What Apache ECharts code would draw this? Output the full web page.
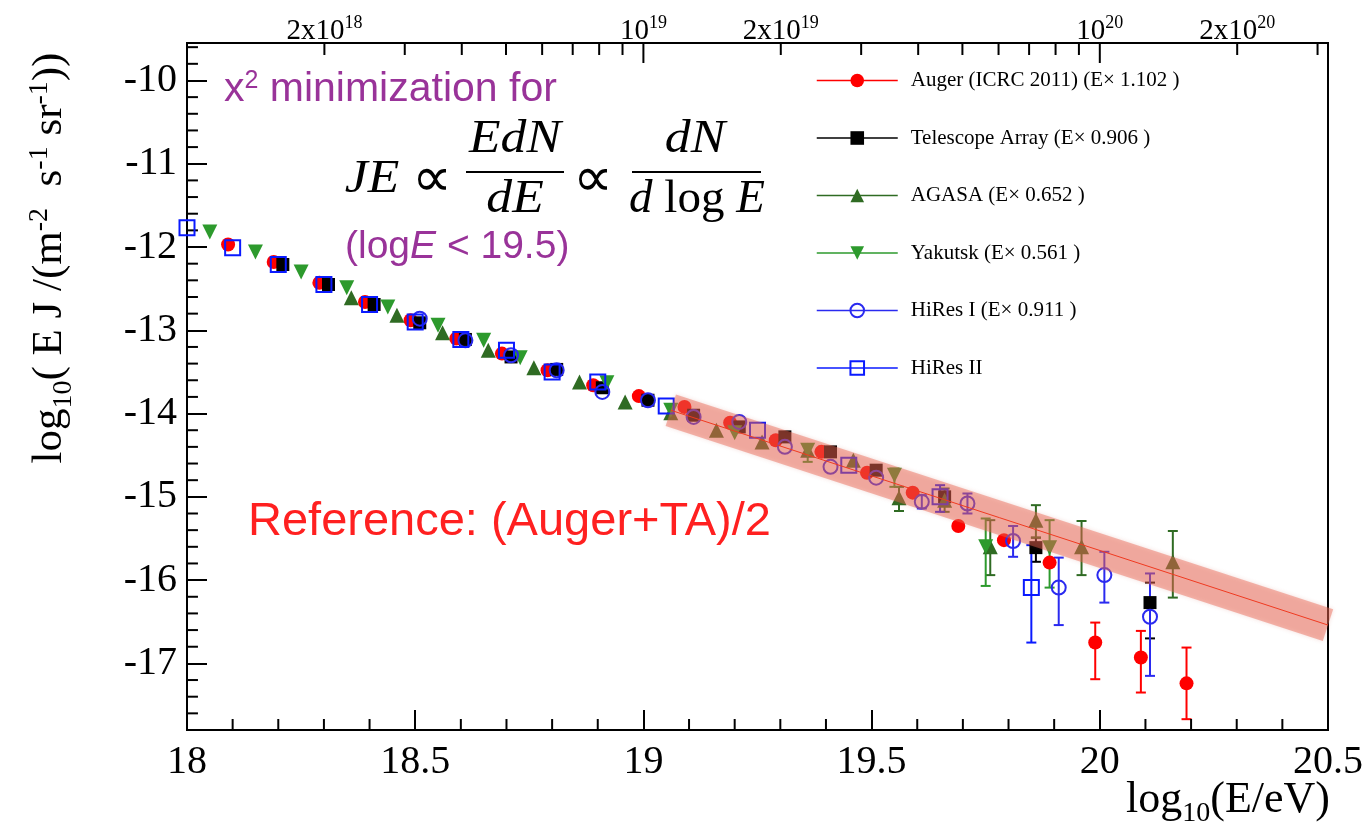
<!DOCTYPE html>
<html><head><meta charset="utf-8">
<script src="https://cdn.jsdelivr.net/npm/echarts@6/dist/echarts.min.js"></script>
<style>html,body{margin:0;padding:0;background:#fff}#c{width:1366px;height:835px}</style>
</head><body><div id="c"></div>
<script>
// ---------------- data ----------------
const augerPts = [[18.09,-11.97],[18.19,-12.18],[18.29,-12.43],[18.39,-12.66],[18.49,-12.88],[18.59,-13.10],[18.69,-13.28],[18.79,-13.48],[18.89,-13.66],[18.99,-13.79],[19.09,-13.92],[19.19,-14.11],[19.29,-14.32],[19.39,-14.46],[19.49,-14.71],[19.59,-14.95],[19.69,-15.35],[19.79,-15.52],[19.89,-15.79],[19.99,-16.75],[20.09,-16.93],[20.19,-17.24]];
const augerErr = [[19.99,-16.51,-17.19],[20.09,-16.61,-17.35],[20.19,-16.81,-17.67]];
const taPts = [[18.21,-12.21],[18.31,-12.45],[18.41,-12.69],[18.51,-12.91],[18.61,-13.11],[18.71,-13.32],[18.81,-13.47],[18.91,-13.69],[19.01,-13.84],[19.11,-14.02],[19.21,-14.16],[19.31,-14.28],[19.41,-14.46],[19.51,-14.68],[19.66,-15.00],[19.86,-15.61],[20.11,-16.27]];
const taErr = [[19.86,-15.49,-15.78],[20.11,-16.03,-16.70]];
const agasaPts = [[18.36,-12.61],[18.46,-12.82],[18.56,-13.03],[18.66,-13.24],[18.76,-13.45],[18.86,-13.62],[18.96,-13.86],[19.06,-13.99],[19.16,-14.20],[19.26,-14.34],[19.36,-14.44],[19.46,-14.56],[19.56,-15.01],[19.66,-15.04],[19.76,-15.60],[19.86,-15.28],[19.96,-15.60],[20.16,-15.78]];
const agasaErr = [[19.56,-14.88,-15.17],[19.66,-14.90,-15.18],[19.76,-15.28,-15.94],[19.86,-15.10,-15.49],[19.96,-15.29,-15.94],[20.16,-15.41,-16.21]];
const yakutskPts = [[18.05,-11.82],[18.15,-12.06],[18.25,-12.30],[18.35,-12.49],[18.44,-12.72],[18.55,-12.94],[18.65,-13.12],[18.73,-13.33],[18.92,-13.63],[19.06,-13.96],[19.20,-14.23],[19.36,-14.44],[19.55,-14.74],[19.75,-15.60],[19.89,-15.61]];
const yakutskErr = [[19.36,-14.38,-14.58],[19.55,-14.66,-14.88],[19.75,-15.26,-16.07],[19.89,-15.28,-16.09]];
const hires1Pts = [[18.51,-12.86],[18.61,-13.12],[18.71,-13.30],[18.81,-13.48],[18.91,-13.74],[19.01,-13.84],[19.11,-14.04],[19.21,-14.10],[19.31,-14.40],[19.41,-14.64],[19.51,-14.77],[19.61,-15.06],[19.71,-15.08],[19.81,-15.53],[19.91,-16.09],[20.01,-15.94],[20.11,-16.44]];
const hires1Err = [[19.61,-14.98,-15.14],[19.71,-14.96,-15.20],[19.81,-15.35,-15.72],[19.91,-15.73,-16.54],[20.01,-15.66,-16.27],[20.11,-15.92,-17.15]];
const hires2Pts = [[18.00,-11.77],[18.10,-12.01],[18.20,-12.21],[18.30,-12.45],[18.40,-12.69],[18.50,-12.90],[18.60,-13.11],[18.70,-13.24],[18.80,-13.50],[18.90,-13.62],[19.05,-13.91],[19.25,-14.20],[19.45,-14.62],[19.65,-15.00],[19.85,-16.09]];
const hires2Err = [[19.65,-14.86,-15.18],[19.85,-15.58,-16.75]];
// reference fit band: (x0, y0) -> (x1, y1), half width in log units
const bandX = [19.06, 20.5];
const bandY = [-13.96, -16.54];
const bandHalf = 0.21;
const seriesNames = ['Auger (ICRC 2011) (E\u00d7 1.102 )','Telescope Array (E\u00d7 0.906 )','AGASA (E\u00d7 0.652 )','Yakutsk (E\u00d7 0.561 )','HiRes I (E\u00d7 0.911 )','HiRes II'];
// axes
const X_MIN = 18, X_MAX = 20.5, Y_MIN = -17.8, Y_MAX = -9.55;
const yLabelValues = [-17,-16,-15,-14,-13,-12,-11,-10];
const yMinorValues = [-17.6,-17.4,-17.2,-16.8,-16.6,-16.4,-16.2,-15.8,-15.6,-15.4,-15.2,-14.8,-14.6,-14.4,-14.2,-13.8,-13.6,-13.4,-13.2,-12.8,-12.6,-12.4,-12.2,-11.8,-11.6,-11.4,-11.2,-10.8,-10.6,-10.4,-10.2,-9.8,-9.6];
const xMinorValues = [18.1,18.2,18.3,18.4,18.6,18.7,18.8,18.9,19.1,19.2,19.3,19.4,19.6,19.7,19.8,19.9,20.1,20.2,20.3,20.4];
const topLabelEnergies = [2e18, 1e19, 2e19, 1e20, 2e20];
const topTickEnergies = [2e18,3e18,4e18,5e18,6e18,7e18,8e18,9e18,2e19,3e19,4e19,5e19,6e19,7e19,8e19,9e19,2e20,3e20];
const topDecadeEnergies = [1e19, 1e20];

// ---------------- chart ----------------
const SERIF = '"Liberation Serif","Times New Roman",serif';
const SANS = '"Liberation Sans",Arial,sans-serif';
const chart = echarts.init(document.getElementById('c'), null, {renderer:'canvas'});

// vertical segments [x, y1, y2] with optional caps
function errSeries(data, color, cap) {
  const c = cap === undefined ? 5 : cap;
  return {
    type:'custom', data, z:2, silent:true, encode:{x:0, y:[1,2]},
    renderItem(params, api) {
      const x = api.value(0);
      const a = api.coord([x, api.value(1)]), b = api.coord([x, api.value(2)]);
      const st = {stroke:color, lineWidth:2};
      const ch = [{type:'line', shape:{x1:a[0],y1:a[1],x2:b[0],y2:b[1]}, style:st}];
      if (c > 0) {
        ch.push({type:'line', shape:{x1:a[0]-c,y1:a[1],x2:a[0]+c,y2:a[1]}, style:st});
        ch.push({type:'line', shape:{x1:b[0]-c,y1:b[1],x2:b[0]+c,y2:b[1]}, style:st});
      }
      return {type:'group', children:ch};
    }
  };
}
// horizontal segments [x1, x2, y]
function hSegSeries(data, color) {
  return {
    type:'custom', data, z:2, silent:true, encode:{x:[0,1], y:2},
    renderItem(params, api) {
      const y = api.value(2);
      const a = api.coord([api.value(0), y]), b = api.coord([api.value(1), y]);
      return {type:'group', children:[{type:'line', shape:{x1:a[0],y1:a[1],x2:b[0],y2:b[1]}, style:{stroke:color, lineWidth:2}}]};
    }
  };
}
function ptSeries(name, data, color, symbol, size, opts) {
  return Object.assign({
    name, type:'line', data, symbol, symbolSize:size, showAllSymbol:true,
    lineStyle:{color, opacity:0, width:1.5},
    itemStyle:{color}, emphasis:{disabled:true}, silent:true, z:3
  }, opts || {});
}
const log10 = v => Math.log10(v);
function topLabel(v) {
  const e = Math.floor(v + 1e-9);
  const m = Math.round(Math.pow(10, v - e));
  return (m === 1 ? '{b|10}' : '{b|' + m + 'x10}') + '{s|' + e + '}';
}
// tick segments in data units (lengths ~11-12 px)
const leftMinorTicks = yMinorValues.map(v => [X_MIN, X_MIN + 0.024, v]);
const bottomMinorTicks = xMinorValues.map(v => [v, Y_MIN, Y_MIN + 0.132]);
const topTicks = topTickEnergies.map(e => [log10(e), Y_MAX - 0.144, Y_MAX]);
const topDecadeTicks = topDecadeEnergies.map(e => [log10(e), Y_MAX - 0.24, Y_MAX]);

const option = {
  animation:false,
  backgroundColor:'#fff',
  grid:{left:187, right:36, top:43, bottom:105, show:true, borderColor:'#000', borderWidth:2, backgroundColor:'transparent'},
  legend:{
    data:seriesNames, orient:'vertical', left:811, top:65, itemWidth:81, itemHeight:17, itemGap:36.5,
    textStyle:{fontFamily:SERIF, fontSize:21, color:'#000', padding:[0,0,0,8]},
    lineStyle:{opacity:1, width:1.5}, selectedMode:false
  },
  xAxis:[
    {type:'value', position:'bottom', min:X_MIN, max:X_MAX, interval:0.5,
     axisLine:{show:true, lineStyle:{color:'#000', width:2}},
     axisTick:{show:true, inside:true, length:20, lineStyle:{color:'#000', width:2}},
     splitLine:{show:false},
     axisLabel:{fontFamily:SERIF, fontSize:40, color:'#000', margin:12, showMinLabel:true, showMaxLabel:true}},
    {type:'value', position:'top', min:X_MIN, max:X_MAX,
     axisLine:{show:true, lineStyle:{color:'#000', width:2}},
     axisTick:{show:false},
     splitLine:{show:false},
     axisLabel:{customValues:topLabelEnergies.map(log10), margin:-3, formatter:topLabel,
       rich:{b:{fontFamily:SERIF, fontSize:29, color:'#000', lineHeight:32, verticalAlign:'bottom'},
             s:{fontFamily:SERIF, fontSize:18, color:'#000', lineHeight:32, verticalAlign:'top'}}}}
  ],
  yAxis:[
    {type:'value', position:'left', min:Y_MIN, max:Y_MAX,
     axisLine:{show:true, lineStyle:{color:'#000', width:2}},
     axisTick:{show:true, inside:true, length:20, customValues:yLabelValues, lineStyle:{color:'#000', width:2}},
     splitLine:{show:false},
     axisLabel:{customValues:yLabelValues, fontFamily:SERIF, fontSize:40, color:'#000', margin:10}}
  ],
  series:[
    errSeries(augerErr, '#ff0000'),
    ptSeries(seriesNames[0], augerPts, '#ff0000', 'circle', 14, {z:3}),
    errSeries(taErr, '#000000'),
    ptSeries(seriesNames[1], taPts, '#000000', 'rect', 13, {z:4}),
    errSeries(agasaErr, '#2f6b23'),
    ptSeries(seriesNames[2], agasaPts, '#2f6b23', 'triangle', 15, {z:5}),
    errSeries(yakutskErr, '#2d9a2d'),
    ptSeries(seriesNames[3], yakutskPts, '#2d9a2d', 'triangle', 15, {z:6, symbolRotate:180}),
    errSeries(hires1Err, '#2a2af0'),
    ptSeries(seriesNames[4], hires1Pts, '#2a2af0', 'circle', 14, {z:7, itemStyle:{color:'rgba(0,0,0,0)', borderColor:'#2a2af0', borderWidth:2}}),
    errSeries(hires2Err, '#0a1aff'),
    ptSeries(seriesNames[5], hires2Pts, '#0a1aff', 'rect', 15, {z:8, itemStyle:{color:'rgba(0,0,0,0)', borderColor:'#0a1aff', borderWidth:2}}),
    errSeries(bottomMinorTicks, '#000000', 0),
    errSeries(topTicks, '#000000', 0),
    errSeries(topDecadeTicks, '#000000', 0),
    hSegSeries(leftMinorTicks, '#000000'),
    {type:'custom', z:10, silent:true, data:[[bandX[0], bandY[0], bandX[1], bandY[1]]], encode:{x:[0,2], y:[1,3]},
     renderItem(params, api) {
       const p0 = api.coord([api.value(0), api.value(1)]);
       const p1 = api.coord([api.value(2), api.value(3)]);
       const dx = p1[0]-p0[0], dy = p1[1]-p0[1], len = Math.hypot(dx, dy);
       const vh = api.size([0, bandHalf])[1];
       const hw = vh * Math.abs(dx) / len;
       const nx = dy/len*hw, ny = -dx/len*hw;
       return {type:'group', children:[
         {type:'polygon', shape:{points:[[p0[0]+nx,p0[1]+ny],[p1[0]+nx,p1[1]+ny],[p1[0]-nx,p1[1]-ny],[p0[0]-nx,p0[1]-ny]]},
          style:{fill:'rgba(232,100,80,0.45)', shadowBlur:4, shadowColor:'rgba(200,80,60,0.4)'}},
         {type:'line', shape:{x1:p0[0],y1:p0[1],x2:p1[0],y2:p1[1]}, style:{stroke:'#f03a20', lineWidth:1}}
       ]};
     }}
  ],
  graphic:[
    {type:'text', x:50, y:258, rotation:Math.PI/2,
     style:{text:'{n|log}{sub|10}{n|( E J /(m}{sup|-2}{n|  s}{sup|-1}{n| sr}{sup|-1}{n|))}', align:'center', verticalAlign:'middle', fill:'#000',
       rich:{n:{fontFamily:SERIF, fontSize:43, lineHeight:56, verticalAlign:'middle', fill:'#000'},
             sub:{fontFamily:SERIF, fontSize:28, lineHeight:28, verticalAlign:'bottom', fill:'#000'},
             sup:{fontFamily:SERIF, fontSize:28, lineHeight:28, verticalAlign:'top', padding:[4,0,0,0], fill:'#000'}}}},
    {type:'text', x:1330, y:800,
     style:{text:'{n|log}{sub|10}{n|(E/eV)}', align:'right', verticalAlign:'middle', fill:'#000',
       rich:{n:{fontFamily:SERIF, fontSize:44, lineHeight:56, verticalAlign:'middle', fill:'#000'},
             sub:{fontFamily:SERIF, fontSize:28, lineHeight:28, verticalAlign:'bottom', fill:'#000'}}}},
    {type:'text', x:224, y:90,
     style:{text:'{a|x}{s|2}{a| minimization for}', align:'left', verticalAlign:'middle',
       rich:{a:{fontFamily:SANS, fontSize:41, lineHeight:48, verticalAlign:'middle', fill:'#993399'},
             s:{fontFamily:SANS, fontSize:25, lineHeight:25, verticalAlign:'top', padding:[3,0,0,0], fill:'#993399'}}}},
    {type:'text', x:345, y:247,
     style:{text:'{a|(log}{i|E}{a| < 19.5)}', align:'left', verticalAlign:'middle',
       rich:{a:{fontFamily:SANS, fontSize:39, fill:'#993399'}, i:{fontFamily:SANS, fontSize:39, fontStyle:'italic', fill:'#993399'}}}},
    {type:'text', x:248, y:522,
     style:{text:'Reference: (Auger+TA)/2', font:'47px ' + SANS, fill:'#ff2020', align:'left', verticalAlign:'middle'}},
    // formula
    {type:'text', x:372, y:180, style:{text:'JE', font:'italic 47px ' + SERIF, fill:'#000', align:'center', verticalAlign:'middle'}, scaleX:1.1},
    {type:'text', x:432, y:181, style:{text:'\u221d', font:'56px "DejaVu Sans",sans-serif', fill:'#000', align:'center', verticalAlign:'middle'}},
    {type:'text', x:515, y:140, style:{text:'EdN', font:'italic 47px ' + SERIF, fill:'#000', align:'center', verticalAlign:'middle'}, scaleX:1.1},
    {type:'line', shape:{x1:466, y1:172, x2:564, y2:172}, style:{stroke:'#000', lineWidth:2}},
    {type:'text', x:515, y:200, style:{text:'dE', font:'italic 47px ' + SERIF, fill:'#000', align:'center', verticalAlign:'middle'}, scaleX:1.1},
    {type:'text', x:593, y:181, style:{text:'\u221d', font:'56px "DejaVu Sans",sans-serif', fill:'#000', align:'center', verticalAlign:'middle'}},
    {type:'text', x:695, y:140, style:{text:'dN', font:'italic 47px ' + SERIF, fill:'#000', align:'center', verticalAlign:'middle'}, scaleX:1.1},
    {type:'line', shape:{x1:632, y1:172, x2:761, y2:172}, style:{stroke:'#000', lineWidth:2}},
    {type:'text', x:697, y:200,
     style:{text:'{i|d}{n| log }{i|E}', align:'center', verticalAlign:'middle',
       rich:{i:{fontFamily:SERIF, fontSize:47, fontStyle:'italic', fill:'#000'}, n:{fontFamily:SERIF, fontSize:47, fill:'#000'}}}}
  ]
};
chart.setOption(option);
</script>
</body></html>
